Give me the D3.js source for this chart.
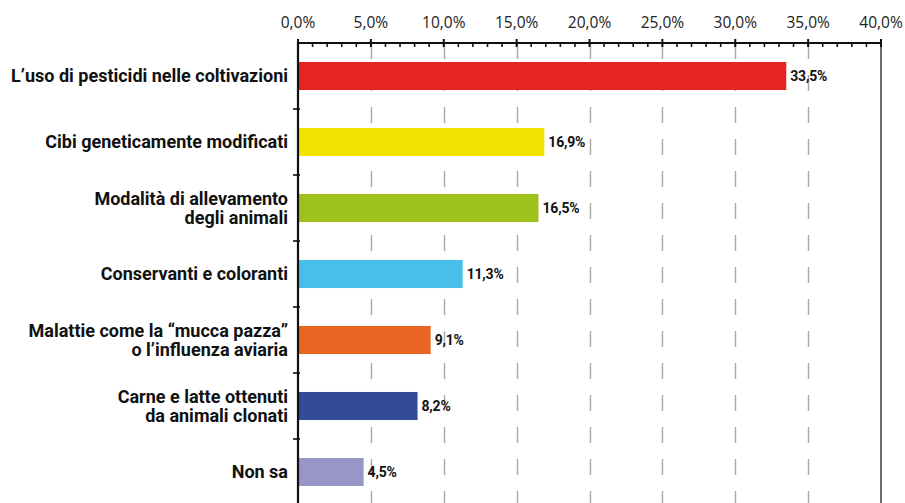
<!DOCTYPE html>
<html>
<head>
<meta charset="utf-8">
<script src="https://cdn.jsdelivr.net/npm/d3@7"></script>
<style>
  body { margin: 0; background: #fff; }
  svg { display: block; }
</style>
</head>
<body>
<svg id="chart" width="905" height="503"></svg>
<script>
// Horizontal bar chart: percentages per concern, top axis, dashed grid.

const categories = [
  ["L\u2019uso di pesticidi nelle coltivazioni"],
  ["Cibi geneticamente modificati"],
  ["Modalità di allevamento", "degli animali"],
  ["Conservanti e coloranti"],
  ["Malattie come la \u201cmucca pazza\u201d", "o l\u2019influenza aviaria"],
  ["Carne e latte ottenuti", "da animali clonati"],
  ["Non sa"]
];
const values = [33.5, 16.9, 16.5, 11.3, 9.1, 8.2, 4.5];
const barColors = ["#e42522", "#f2e400", "#9dc21d", "#46c0ea", "#ea6421", "#314b99", "#9896c6"];
const xTicks = [0, 5, 10, 15, 20, 25, 30, 35, 40];

const svg = d3.select("#chart");
const margin = { top: 43, left: 298, right: 24 };
const width = +svg.attr("width");

const fmt = v => v.toFixed(1).replace(".", ",") + "%";

const x = d3.scaleLinear()
  .domain([0, 40])
  .range([margin.left, width - margin.right]);

const y = d3.scaleBand()
  .domain(d3.range(values.length))
  .range([margin.top, margin.top + 66 * values.length])
  .paddingInner(0.575)
  .paddingOuter(0.2875);

const chartBottom = margin.top + 66 * values.length;

// dashed gridlines
svg.append("g")
  .selectAll("line")
  .data(xTicks.filter(t => t > 0 && t < 40))
  .join("line")
  .attr("x1", d => Math.round(x(d)) + 0.5)
  .attr("x2", d => Math.round(x(d)) + 0.5)
  .attr("y1", margin.top)
  .attr("y2", chartBottom)
  .attr("stroke", "#a9a9a9")
  .attr("stroke-width", 1.4)
  .attr("stroke-dasharray", "16,16");

// right border
svg.append("line")
  .attr("x1", x(40)).attr("x2", x(40))
  .attr("y1", margin.top).attr("y2", chartBottom)
  .attr("stroke", "#4a4a4a")
  .attr("stroke-width", 1.6);

// bars
svg.append("g")
  .selectAll("rect")
  .data(values)
  .join("rect")
  .attr("x", x(0))
  .attr("y", (d, i) => y(i))
  .attr("width", d => x(d) - x(0))
  .attr("height", y.bandwidth())
  .attr("fill", (d, i) => barColors[i]);

// value labels
svg.append("g")
  .selectAll("text")
  .data(values)
  .join("text")
  .attr("x", d => x(d) + 4)
  .attr("y", (d, i) => y(i) + y.bandwidth() / 2)
  .attr("dy", "0.36em")
  .attr("font-family", "Roboto, sans-serif")
  .attr("font-size", 14)
  .attr("font-weight", 700)
  .attr("letter-spacing", -0.2)
  .attr("fill", "#111")
  .text(d => fmt(d));

// top axis: minor ticks every 1%
const minor = d3.range(0, 41).filter(v => v % 5 !== 0);
const axisG = svg.append("g");
axisG.append("line")
  .attr("x1", x(0)).attr("x2", x(40))
  .attr("y1", margin.top).attr("y2", margin.top)
  .attr("stroke", "#111")
  .attr("stroke-width", 2);
axisG.selectAll(".minor")
  .data(minor)
  .join("line")
  .attr("class", "minor")
  .attr("x1", d => x(d)).attr("x2", d => x(d))
  .attr("y1", margin.top).attr("y2", margin.top + 4)
  .attr("stroke", "#111")
  .attr("stroke-width", 1.6);
axisG.selectAll(".major")
  .data(xTicks)
  .join("line")
  .attr("class", "major")
  .attr("x1", d => x(d)).attr("x2", d => x(d))
  .attr("y1", margin.top - 4).attr("y2", margin.top + 4)
  .attr("stroke", "#111")
  .attr("stroke-width", 2);
axisG.selectAll(".tick-label")
  .data(xTicks)
  .join("text")
  .attr("class", "tick-label")
  .attr("x", d => x(d))
  .attr("y", 28)
  .attr("text-anchor", "middle")
  .attr("font-family", "'Open Sans', sans-serif")
  .attr("font-size", 15.5)
  .attr("fill", "#222")
  .text(d => fmt(d));

// left axis with ticks at band boundaries
svg.append("line")
  .attr("x1", x(0)).attr("x2", x(0))
  .attr("y1", margin.top - 1).attr("y2", chartBottom)
  .attr("stroke", "#111")
  .attr("stroke-width", 2.2);
svg.append("g")
  .selectAll("line")
  .data(d3.range(1, values.length))
  .join("line")
  .attr("x1", x(0) - 5).attr("x2", x(0) + 2)
  .attr("y1", d => margin.top + 66 * d)
  .attr("y2", d => margin.top + 66 * d)
  .attr("stroke", "#111")
  .attr("stroke-width", 1.6);

// category labels, one text per line
const labelSize = 18;
const lineHeight = 19;
const labelG = svg.append("g");
categories.forEach((lines, i) => {
  const cy = y(i) + y.bandwidth() / 2;
  const start = cy - (lines.length - 1) * lineHeight / 2;
  lines.forEach((s, k) => {
    labelG.append("text")
      .attr("x", x(0) - 10)
      .attr("y", start + k * lineHeight)
      .attr("dy", "0.36em")
      .attr("text-anchor", "end")
      .attr("font-family", "Roboto, sans-serif")
      .attr("font-size", labelSize)
      .attr("font-weight", 700)
      .attr("fill", "#111")
      .text(s);
  });
});
</script>
</body>
</html>
